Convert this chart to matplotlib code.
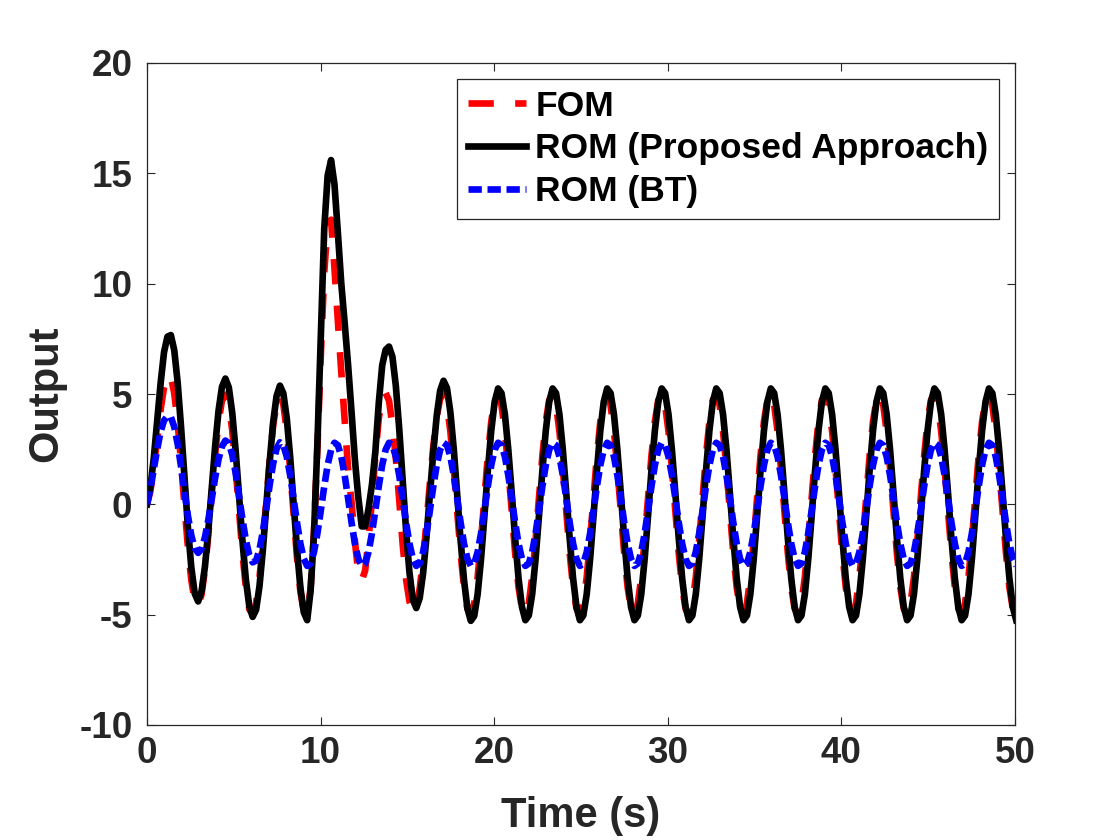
import numpy as np
import matplotlib
matplotlib.use("Agg")
from matplotlib import pyplot as plt

# sample spacing of the read-off curves (s)
dt = np.pi / 16

# FOM output
fom = [
    0.00, 0.60, 1.70, 3.00, 4.30, 5.30, 5.85, 5.80, 5.03, 3.68, 1.90, -0.07, -1.93, -3.44, -4.37, -4.59,
    -4.09, -2.96, -1.35, 0.48, 2.27, 3.76, 4.71, 4.97, 4.53, 3.36, 1.65, -0.30, -2.21, -3.77, -4.75, -4.98,
    -4.48, -3.33, -1.71, 0.16, 2.01, 3.56, 4.59, 4.95, 4.53, 3.34, 1.59, -0.43, -2.40, -3.95, -4.85, -4.93,
    -3.80, -1.20, 2.60, 6.80, 10.50, 12.70, 12.90, 10.70, 8.30, 6.00, 3.80, 1.60, 0.10, -1.70, -3.10, -3.45,
    -3.00, -1.60, 0.20, 2.20, 3.90, 4.80, 5.05, 4.70, 3.60, 2.10, 0.20, -1.80, -3.40, -4.40, -4.85, -4.64,
    -3.82, -2.49, -0.82, 0.97, 2.64, 3.97, 4.79, 4.99, 4.49, 3.30, 1.61, -0.32, -2.21, -3.76, -4.73, -4.99,
    -4.49, -3.30, -1.61, 0.32, 2.21, 3.76, 4.73, 4.99, 4.49, 3.30, 1.61, -0.32, -2.21, -3.76, -4.73, -4.99,
    -4.49, -3.30, -1.61, 0.32, 2.21, 3.76, 4.73, 4.99, 4.49, 3.30, 1.61, -0.32, -2.21, -3.76, -4.73, -4.99,
    -4.49, -3.30, -1.61, 0.32, 2.21, 3.76, 4.73, 4.99, 4.49, 3.30, 1.61, -0.32, -2.21, -3.76, -4.73, -4.99,
    -4.49, -3.30, -1.61, 0.32, 2.21, 3.76, 4.73, 4.99, 4.49, 3.30, 1.61, -0.32, -2.21, -3.76, -4.73, -4.99,
    -4.49, -3.30, -1.61, 0.32, 2.21, 3.76, 4.73, 4.99, 4.49, 3.30, 1.61, -0.32, -2.21, -3.76, -4.73, -4.99,
    -4.49, -3.30, -1.61, 0.32, 2.21, 3.76, 4.73, 4.99, 4.49, 3.30, 1.61, -0.32, -2.21, -3.76, -4.73, -4.99,
    -4.49, -3.30, -1.61, 0.32, 2.21, 3.76, 4.73, 4.99, 4.49, 3.30, 1.61, -0.32, -2.21, -3.76, -4.73, -4.99,
    -4.49, -3.30, -1.61, 0.32, 2.21, 3.76, 4.73, 4.99, 4.49, 3.30, 1.61, -0.32, -2.21, -3.76, -4.73, -4.99,
    -4.49, -3.30, -1.61, 0.32, 2.21, 3.76, 4.73, 4.99, 4.49, 3.30, 1.61, -0.32, -2.21, -3.76, -4.73, -4.99,
    -4.49, -3.30, -1.61, 0.32, 2.21, 3.76, 4.73, 4.99, 4.49, 3.30, 1.61, -0.32, -2.21, -3.76, -4.73, -4.99,
]

# ROM (proposed approach) output
rom_proposed = [
    0.00, 0.80, 2.10, 3.80, 5.50, 6.90, 7.60, 7.67, 6.98, 5.51, 3.48, 1.19, -1.03, -2.86, -4.04, -4.40,
    -3.95, -2.82, -1.17, 0.75, 2.65, 4.26, 5.33, 5.70, 5.30, 4.16, 2.44, 0.41, -1.64, -3.41, -4.61, -5.10,
    -4.78, -3.71, -2.05, -0.06, 1.95, 3.70, 4.90, 5.38, 5.03, 3.90, 2.15, 0.07, -2.02, -3.77, -4.90, -5.25,
    -3.90, -1.30, 2.80, 7.60, 12.50, 14.90, 15.60, 14.50, 12.30, 10.00, 8.20, 6.30, 4.20, 2.00, 0.30, -1.00,
    -1.00, -0.20, 0.90, 2.40, 4.60, 6.30, 7.00, 7.15, 6.69, 5.37, 3.41, 1.11, -1.17, -3.09, -4.33, -4.70,
    -4.25, -3.12, -1.47, 0.45, 2.37, 4.02, 5.15, 5.60, 5.27, 4.18, 2.50, 0.47, -1.62, -3.43, -4.72, -5.28,
    -5.06, -4.07, -2.47, -0.51, 1.54, 3.35, 4.65, 5.25, 5.04, 4.07, 2.47, 0.51, -1.54, -3.35, -4.65, -5.25,
    -5.04, -4.07, -2.47, -0.51, 1.54, 3.35, 4.65, 5.25, 5.04, 4.07, 2.47, 0.51, -1.54, -3.35, -4.65, -5.25,
    -5.04, -4.07, -2.47, -0.51, 1.54, 3.35, 4.65, 5.25, 5.04, 4.07, 2.47, 0.51, -1.54, -3.35, -4.65, -5.25,
    -5.04, -4.07, -2.47, -0.51, 1.54, 3.35, 4.65, 5.25, 5.04, 4.07, 2.47, 0.51, -1.54, -3.35, -4.65, -5.25,
    -5.04, -4.07, -2.47, -0.51, 1.54, 3.35, 4.65, 5.25, 5.04, 4.07, 2.47, 0.51, -1.54, -3.35, -4.65, -5.25,
    -5.04, -4.07, -2.47, -0.51, 1.54, 3.35, 4.65, 5.25, 5.04, 4.07, 2.47, 0.51, -1.54, -3.35, -4.65, -5.25,
    -5.04, -4.07, -2.47, -0.51, 1.54, 3.35, 4.65, 5.25, 5.04, 4.07, 2.47, 0.51, -1.54, -3.35, -4.65, -5.25,
    -5.04, -4.07, -2.47, -0.51, 1.54, 3.35, 4.65, 5.25, 5.04, 4.07, 2.47, 0.51, -1.54, -3.35, -4.65, -5.25,
    -5.04, -4.07, -2.47, -0.51, 1.54, 3.35, 4.65, 5.25, 5.04, 4.07, 2.47, 0.51, -1.54, -3.35, -4.65, -5.25,
    -5.04, -4.07, -2.47, -0.51, 1.54, 3.35, 4.65, 5.25, 5.04, 4.07, 2.47, 0.51, -1.54, -3.35, -4.65, -5.25,
]

# ROM (balanced truncation) output
rom_bt = [
    0.00, 0.70, 1.60, 2.50, 3.30, 3.80, 4.00, 3.96, 3.51, 2.73, 1.70, 0.57, -0.51, -1.41, -1.99, -2.20,
    -2.02, -1.49, -0.70, 0.25, 1.21, 2.05, 2.63, 2.89, 2.77, 2.25, 1.42, 0.39, -0.67, -1.62, -2.30, -2.63,
    -2.55, -2.05, -1.22, -0.19, 0.89, 1.84, 2.51, 2.81, 2.68, 2.16, 1.31, 0.27, -0.82, -1.78, -2.47, -2.79,
    -2.68, -2.16, -1.31, -0.27, 0.82, 1.78, 2.47, 2.79, 2.68, 2.16, 1.31, 0.27, -0.82, -1.78, -2.47, -2.79,
    -2.68, -2.16, -1.31, -0.27, 0.82, 1.78, 2.47, 2.79, 2.68, 2.16, 1.31, 0.27, -0.82, -1.78, -2.47, -2.79,
    -2.68, -2.16, -1.31, -0.27, 0.82, 1.78, 2.47, 2.79, 2.68, 2.16, 1.31, 0.27, -0.82, -1.78, -2.47, -2.79,
    -2.68, -2.16, -1.31, -0.27, 0.82, 1.78, 2.47, 2.79, 2.68, 2.16, 1.31, 0.27, -0.82, -1.78, -2.47, -2.79,
    -2.68, -2.16, -1.31, -0.27, 0.82, 1.78, 2.47, 2.79, 2.68, 2.16, 1.31, 0.27, -0.82, -1.78, -2.47, -2.79,
    -2.68, -2.16, -1.31, -0.27, 0.82, 1.78, 2.47, 2.79, 2.68, 2.16, 1.31, 0.27, -0.82, -1.78, -2.47, -2.79,
    -2.68, -2.16, -1.31, -0.27, 0.82, 1.78, 2.47, 2.79, 2.68, 2.16, 1.31, 0.27, -0.82, -1.78, -2.47, -2.79,
    -2.68, -2.16, -1.31, -0.27, 0.82, 1.78, 2.47, 2.79, 2.68, 2.16, 1.31, 0.27, -0.82, -1.78, -2.47, -2.79,
    -2.68, -2.16, -1.31, -0.27, 0.82, 1.78, 2.47, 2.79, 2.68, 2.16, 1.31, 0.27, -0.82, -1.78, -2.47, -2.79,
    -2.68, -2.16, -1.31, -0.27, 0.82, 1.78, 2.47, 2.79, 2.68, 2.16, 1.31, 0.27, -0.82, -1.78, -2.47, -2.79,
    -2.68, -2.16, -1.31, -0.27, 0.82, 1.78, 2.47, 2.79, 2.68, 2.16, 1.31, 0.27, -0.82, -1.78, -2.47, -2.79,
    -2.68, -2.16, -1.31, -0.27, 0.82, 1.78, 2.47, 2.79, 2.68, 2.16, 1.31, 0.27, -0.82, -1.78, -2.47, -2.79,
    -2.68, -2.16, -1.31, -0.27, 0.82, 1.78, 2.47, 2.79, 2.68, 2.16, 1.31, 0.27, -0.82, -1.78, -2.47, -2.79,
]

series_labels = ["FOM", "ROM (Proposed Approach)", "ROM (BT)"]
x_ticks = [0, 10, 20, 30, 40, 50]
y_ticks = [-10, -5, 0, 5, 10, 15, 20]

plt.rcParams['font.family'] = ['Liberation Sans', 'DejaVu Sans']
plt.rcParams['font.weight'] = 'bold'
plt.rcParams['axes.labelweight'] = 'bold'
plt.rcParams['axes.unicode_minus'] = False

gray = '#262626'
t = np.arange(len(fom)) * dt

fig = plt.figure(figsize=(11.2, 8.4), dpi=100)
ax = fig.add_axes([147 / 1120, 1 - 725 / 840, 868 / 1120, 662 / 840])

ax.plot(t, fom, color=(1, 0, 0), lw=4.8, dashes=(3.8, 3.2), label=series_labels[0])
ax.plot(t, rom_proposed, color='k', lw=4.8, label=series_labels[1])
ax.plot(t, rom_bt, color=(0, 0, 1), lw=4.8, dashes=(2.0, 0.85), label=series_labels[2])

ax.set_xlim(0, 50)
ax.set_ylim(-10, 20)
ax.set_xticks(x_ticks)
ax.set_yticks(y_ticks)

ax.tick_params(direction='in', length=6, width=0.8, colors=gray, labelsize=26.5,
               top=True, right=True)
ax.tick_params(axis='x', pad=8)
ax.tick_params(axis='y', pad=10.5)
for s in ax.spines.values():
    s.set_color(gray)
    s.set_linewidth(0.9)

ax.set_xlabel("Time (s)", fontsize=30, color=gray, labelpad=18)
ax.set_ylabel("Output", fontsize=30, color=gray, labelpad=9)

leg = ax.legend(loc='upper right', fontsize=25.5, frameon=True, fancybox=False,
                edgecolor=gray, framealpha=1, handlelength=1.65, handletextpad=0.25,
                borderpad=0.3, labelspacing=0.28, borderaxespad=0.45)
leg.get_frame().set_linewidth(0.9)

fig.savefig("out.png", dpi=100)
